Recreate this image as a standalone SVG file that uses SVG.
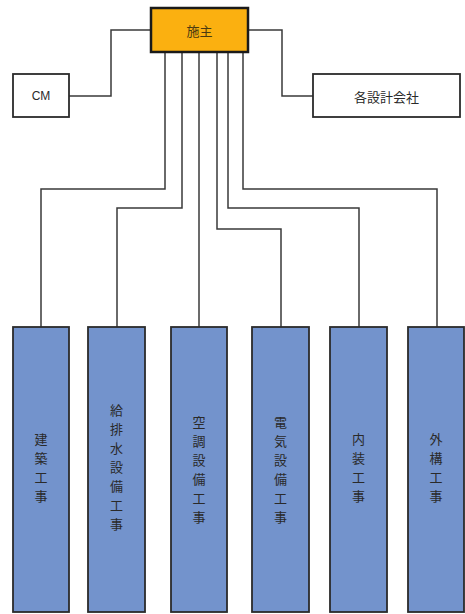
<svg xmlns="http://www.w3.org/2000/svg" width="465" height="614" viewBox="0 0 465 614">
<style>
.lbl{font-family:"Noto Sans CJK JP","Liberation Sans",sans-serif;font-size:13px;fill:#2a2a2a;text-anchor:middle;dominant-baseline:central}
.vt{font-family:"Noto Sans CJK JP",sans-serif;font-size:13px;fill:#2a2a2a;writing-mode:vertical-rl;text-orientation:upright;letter-spacing:6px;text-anchor:middle;dominant-baseline:central}
.w{fill:#ffffff;stroke:#2b2b2b;stroke-width:1.8}
.b{fill:#7393cc;stroke:#2b2b2b;stroke-width:1.8}
.c{fill:none;stroke:#3a3a3a;stroke-width:1.5}
</style>
<rect width="465" height="614" fill="#ffffff"/>
<g id="connectors">
<polyline class="c" points="69,96 111,96 111,30 151,30"/>
<polyline class="c" points="248,30 282,30 282,96 313,96"/>
<polyline class="c" points="165,52 165,189 41,189 41,327"/>
<polyline class="c" points="182,52 182,208 117,208 117,327"/>
<polyline class="c" points="199,52 199,327"/>
<polyline class="c" points="217,52 217,229 281,229 281,327"/>
<polyline class="c" points="228,52 228,208 359,208 359,327"/>
<polyline class="c" points="243,52 243,189 437,189 437,327"/>
</g>
<g id="owner">
<rect x="151" y="8" width="97" height="44" fill="#fbb010" stroke="#1a1a1a" stroke-width="2.5"/>
<text class="lbl" x="199.5" y="30" style="fill:#4a3a10">施主</text>
</g>
<g id="cm">
<rect class="w" x="13" y="74" width="56" height="43"/>
<text class="lbl" x="41" y="96" style="font-family:'Liberation Sans',sans-serif;font-size:12px">CM</text>
</g>
<g id="design">
<rect class="w" x="313" y="74" width="147" height="43"/>
<text class="lbl" x="386.5" y="96">各設計会社</text>
</g>
<g id="n1">
<rect class="b" x="13" y="327" width="56" height="285"/>
<text class="vt" x="41" y="471">建築工事</text>
</g>
<g id="n2">
<rect class="b" x="88" y="327" width="57" height="285"/>
<text class="vt" x="116.5" y="470">給排水設備工事</text>
</g>
<g id="n3">
<rect class="b" x="171" y="327" width="56" height="285"/>
<text class="vt" x="199" y="473">空調設備工事</text>
</g>
<g id="n4">
<rect class="b" x="252" y="327" width="57" height="285"/>
<text class="vt" x="280.5" y="473">電気設備工事</text>
</g>
<g id="n5">
<rect class="b" x="330" y="327" width="57" height="285"/>
<text class="vt" x="358.5" y="471">内装工事</text>
</g>
<g id="n6">
<rect class="b" x="408" y="327" width="56" height="285"/>
<text class="vt" x="436" y="471">外構工事</text>
</g>
</svg>
